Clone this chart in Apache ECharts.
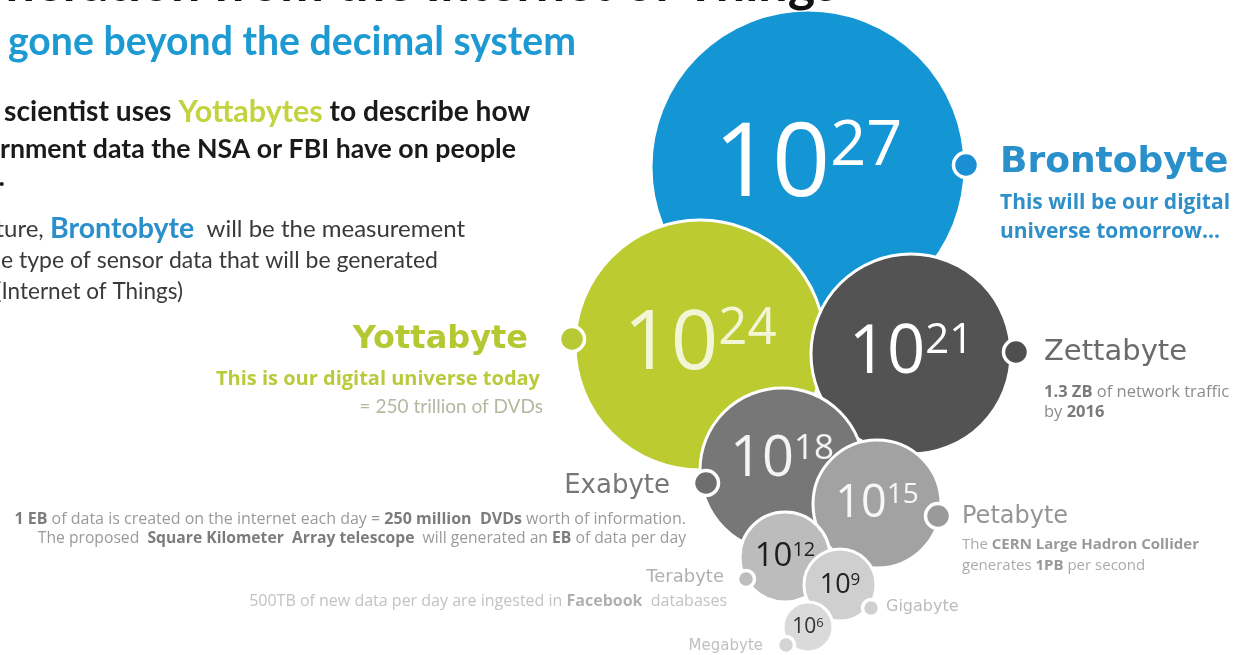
<!DOCTYPE html>
<html>
<head>
<meta charset="utf-8">
<script src="https://cdn.jsdelivr.net/npm/echarts@6/dist/echarts.min.js"></script>
<style>
html, body { margin: 0; padding: 0; background: #fff; }
#chart { width: 1234px; height: 655px; }
</style>
</head>
<body>
<div id="chart"></div>
<script>
// units, biggest first so the smaller bubbles are drawn on top
const units = ['Brontobyte', 'Yottabyte', 'Zettabyte', 'Exabyte', 'Petabyte', 'Terabyte', 'Gigabyte', 'Megabyte'];
const exponents = [27, 24, 21, 18, 15, 12, 9, 6];
// bubble centre (x, y) and radius, in the hidden axes' units
const bubbleX = [808, 700, 911, 782, 877, 785, 840, 808];
const bubbleY = [167, 345, 354, 470, 504, 557, 585, 627];
const bubbleR = [157, 125, 100, 82, 64, 45, 36, 25];
// little marker dots on each bubble's edge
const dotX = [966, 572, 1016, 706, 938, 746, 871, 786];
const dotY = [165, 339, 352, 483, 516, 579, 608, 645];

const bubbleColors = ['#1496d5', '#bccb2f', '#535353', '#777777', '#a2a2a2', '#bcbcbc', '#cfcfcf', '#dadada'];
const dotColors = ['#1a8fd3', '#b7c934', '#4f4f4f', '#6e6e6e', '#9a9a9a', '#bdbdbd', '#d0d0d0', '#d4d4d4'];
const labelColors = ['#ffffff', '#f3f6d6', '#ffffff', '#f4f4f4', '#f7f7f7', '#1e1e1e', '#222222', '#333333'];
const labelLift = [0, 0, 0, -10, 0, 0, 0, 0];

let chart = echarts.init(document.getElementById('chart'));

const bubbleData = units.map(function (name, i) {
    const f = Math.round(bubbleR[i] * 0.62 + 5); // size of the "10"
    const s = Math.round(f * 0.62);              // size of the exponent
    return {
        name: name,
        value: [bubbleX[i], bubbleY[i], bubbleR[i]],
        itemStyle: { color: bubbleColors[i] },
        label: {
            offset: [0, labelLift[i]],
            formatter: '{b|10}{s|' + exponents[i] + '}',
            rich: {
                b: { fontSize: f, lineHeight: f, fontFamily: 'Open Sans', color: labelColors[i],
                     verticalAlign: 'middle', padding: [Math.round(f * 0.22), 0, Math.round(f * 0.22), 0] },
                s: { fontSize: s, lineHeight: s, fontFamily: 'Open Sans', color: labelColors[i], verticalAlign: 'top' }
            }
        }
    };
});

const dotData = units.map(function (name, i) {
    return { name: name, value: [dotX[i], dotY[i]], itemStyle: { color: dotColors[i] } };
});

// text helper, everything in the infographic is placed by hand
function font(size, weight, family) {
    return { fontSize: size, fontWeight: weight || 'normal', fontFamily: family || 'Lato' };
}
function txt(x, y, text, size, color, opt) {
    opt = opt || {};
    const align = opt.align || 'left';
    const style = Object.assign({
        text: text,
        fill: color,
        align: align, verticalAlign: 'middle',
        textAlign: align, textVerticalAlign: 'middle'
    }, font(size, opt.weight, opt.family));
    if (opt.rich) style.rich = opt.rich;
    return { type: 'text', x: x, y: y, silent: true, z: 10, style: style };
}
function tok(size, weight, family, color) {
    return Object.assign({ fill: color, color: color }, font(size, weight, family));
}

const wide = 'DejaVu Sans';
const small = 'Open Sans';

const texts = [
    // heading (cut off by the top edge)
    txt(838, -16, 'Data Generation from the Internet of Things', 52, '#111', { align: 'right', weight: 'bold' }),
    txt(576, 42, 'We have gone beyond the decimal system', 39.2, '#1e9ad2', { align: 'right', weight: 'bold' }),

    // left paragraphs
    txt(530, 112, 'Today, data scientist uses {y|Yottabytes} to describe how', 28.2, '#1a1a1a', {
        align: 'right', weight: 'bold', rich: { y: tok(30.5, 'bold', 'Lato', '#c2d33f') }
    }),
    txt(516, 149, 'much government data the NSA or FBI have on people', 26.7, '#1a1a1a', { align: 'right', weight: 'bold' }),
    txt(5, 177, 'altogether.', 27, '#1a1a1a', { align: 'right', weight: 'bold' }),
    txt(465, 229, 'In the future, {b|Brontobyte}  will be the measurement', 24, '#3a3a3a', {
        align: 'right', rich: { b: tok(28.5, 'bold', 'Lato', '#2a8fcb') }
    }),
    txt(438, 261, 'for the type of sensor data that will be generated', 23, '#3a3a3a', { align: 'right' }),
    txt(183, 292, 'by IoT (Internet of Things)', 22.5, '#3a3a3a', { align: 'right' }),

    // Brontobyte
    txt(1000, 163, units[0], 36, '#2a90cc', { weight: 'bold', family: wide }),
    txt(1000, 203, 'This will be our digital', 21, '#2f8fc8', { weight: 'bold', family: small }),
    txt(1000, 232, 'universe tomorrow...', 21, '#2f8fc8', { weight: 'bold', family: small }),

    // Yottabyte
    txt(528, 340, units[1], 32, '#b4c832', { align: 'right', weight: 'bold', family: wide }),
    txt(540, 379, 'This is our digital universe today', 20, '#b9cb3c', { align: 'right', weight: 'bold', family: small }),
    txt(543, 407, '= 250 trillion of DVDs', 19, '#b3b8a0', { align: 'right' }),

    // Zettabyte
    txt(1044, 352, units[2], 29, '#6b6b6b', { family: wide }),
    txt(1044, 392, '{b|1.3 ZB} of network traffic', 16.5, '#8c8c8c', { family: small, rich: { b: tok(16.5, 'bold', small, '#7a7a7a') } }),
    txt(1044, 412, 'by {b|2016}', 16.5, '#8c8c8c', { family: small, rich: { b: tok(16.5, 'bold', small, '#7a7a7a') } }),

    // Exabyte
    txt(670, 486, units[3], 26, '#777', { align: 'right', family: wide }),
    txt(686, 519, '{b|1 EB} of data is created on the internet each day = {b|250 million  DVDs} worth of information.', 16, '#9a9a9a', {
        align: 'right', family: small, rich: { b: tok(16, 'bold', small, '#7c7c7c') }
    }),
    txt(686, 539, 'The proposed  {b|Square Kilometer  Array telescope}  will generated an {b|EB} of data per day', 15.7, '#9a9a9a', {
        align: 'right', family: small, rich: { b: tok(15.7, 'bold', small, '#7c7c7c') }
    }),

    // Petabyte
    txt(962, 517, units[4], 24, '#959595', { family: wide }),
    txt(962, 545, 'The {b|CERN Large Hadron Collider}', 15, '#ababab', { family: small, rich: { b: tok(15, 'bold', small, '#999') } }),
    txt(962, 566, 'generates {b|1PB} per second', 15, '#ababab', { family: small, rich: { b: tok(15, 'bold', small, '#999') } }),

    // Terabyte
    txt(724, 577, units[5], 18, '#b0b0b0', { align: 'right', family: wide }),
    txt(727, 601, '500TB of new data per day are ingested in {b|Facebook}  databases', 16, '#c2c2c2', {
        align: 'right', family: small, rich: { b: tok(16, 'bold', small, '#b0b0b0') }
    }),

    // Gigabyte, Megabyte
    txt(886, 607, units[6], 16, '#bcbcbc', { family: wide }),
    txt(763, 646, units[7], 15, '#c0c0c0', { align: 'right', family: wide })
];

const option = {
    animation: false,
    backgroundColor: '#ffffff',
    grid: { left: 0, right: 0, top: 0, bottom: 0 },
    xAxis: { type: 'value', min: 0, max: 1234, show: false },
    yAxis: { type: 'value', min: 0, max: 655, inverse: true, show: false },
    series: [
        {
            name: 'units',
            type: 'scatter',
            data: bubbleData,
            symbolSize: function (v) { return v[2] * 2; },
            itemStyle: { borderColor: '#ffffff', borderWidth: 3, opacity: 1 },
            label: { show: true, position: 'inside' },
            emphasis: { disabled: true },
            z: 2
        },
        {
            name: 'dots',
            type: 'scatter',
            data: dotData,
            symbolSize: function (v, p) { return p.dataIndex < 5 ? 25 : 17; },
            itemStyle: { borderColor: '#ffffff', borderWidth: 3.5, opacity: 1 },
            emphasis: { disabled: true },
            z: 3
        }
    ],
    graphic: { elements: texts }
};

chart.setOption(option);
</script>
</body>
</html>
